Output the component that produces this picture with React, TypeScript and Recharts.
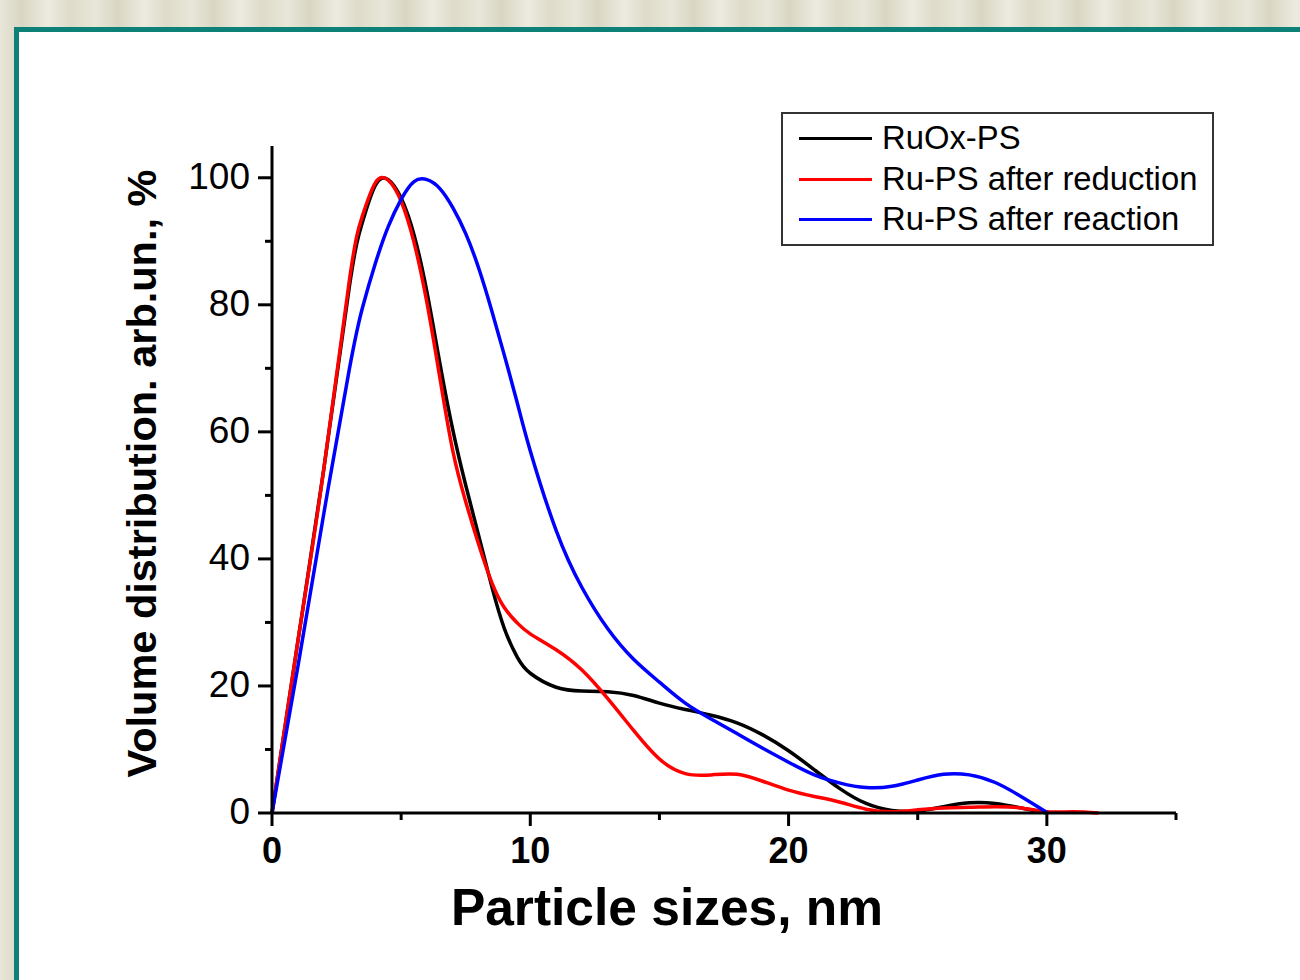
import { CartesianGrid, Legend, Line, LineChart, XAxis, YAxis } from 'recharts';

// particle size (nm) sample grid, shared by the three curves
const SIZES = [
  0, 1, 2, 3, 3.5, 4, 4.5, 5, 5.5, 6, 6.5, 7, 7.5, 8, 8.5, 9, 9.5, 10, 11, 12, 13, 14, 15, 16, 17, 18, 19, 20, 21, 22,
  23, 24, 25, 26, 27, 28, 29, 30, 31, 32,
];

const RUOX_PS = [
  0, 27, 54, 83, 93, 98.8, 99.7, 96.8, 91, 82, 70.8, 60.3, 51.6, 43.7, 35.8, 29, 24.5, 22, 19.8, 19.2, 19.1, 18.5,
  17.3, 16.3, 15.4, 14.2, 12.3, 9.8, 6.8, 3.8, 1.5, 0.4, 0.3, 1, 1.6, 1.5, 0.8, 0, null, null,
];

const RU_REDUCTION = [
  0, 27, 54, 84, 94, 99.2, 99.6, 96.3, 89.8, 80.3, 68.5, 57, 49, 42.3, 36.4, 32.3, 29.9, 28.2, 25.7, 22.5, 18, 13, 8.5,
  6.2, 6, 6.1, 5, 3.6, 2.6, 1.7, 0.6, 0.2, 0.5, 0.8, 0.9, 1, 0.8, 0.2, 0.2, 0,
];

const RU_REACTION = [
  0, 23, 47, 70, 79.5, 86.5, 92.3, 96.6, 99.4, 99.7, 98.3, 95.3, 91.2, 85.8, 79.2, 72, 64.5, 57, 44.5, 35.5, 29, 24.2,
  20.6, 17.3, 14.8, 12.5, 10.2, 8, 6, 4.7, 4, 4.2, 5.2, 6.1, 6, 4.8, 2.6, 0.1, null, null,
];

const SERIES = [
  { key: 'ruox', name: 'RuOx-PS', color: '#000000' },
  { key: 'red', name: 'Ru-PS after reduction', color: '#ff0000' },
  { key: 'react', name: 'Ru-PS after reaction', color: '#0000ff' },
];

const X_TICKS = [0, 5, 10, 15, 20, 25, 30, 35];
const X_LABELS = [0, 10, 20, 30];
const Y_TICKS = [0, 10, 20, 30, 40, 50, 60, 70, 80, 90, 100];
const Y_LABELS = [0, 20, 40, 60, 80, 100];

const FONT = '"Liberation Sans", Arial, sans-serif';
const TEAL = '#0d8078';

const rows = SIZES.map((x, i) => ({
  x,
  ruox: RUOX_PS[i],
  red: RU_REDUCTION[i],
  react: RU_REACTION[i],
}));

function XTick(props: any) {
  const { x, y, payload } = props;
  const major = X_LABELS.includes(payload.value);
  return (
    <g>
      <line x1={x} x2={x} y1={y} y2={y + (major ? 13 : 7)} stroke="#000" strokeWidth={3} />
      {major && (
        <text x={x} y={y + 50} textAnchor="middle" fontFamily={FONT} fontSize={36} fontWeight="bold" fill="#000">
          {payload.value}
        </text>
      )}
    </g>
  );
}

function YTick(props: any) {
  const { x, y, payload } = props;
  const major = Y_LABELS.includes(payload.value);
  return (
    <g>
      <line x1={x - (major ? 14 : 7)} x2={x} y1={y} y2={y} stroke="#000" strokeWidth={3} />
      {major && (
        <text x={x - 22} y={y + 11} textAnchor="end" fontFamily={FONT} fontSize={37} fill="#000">
          {payload.value}
        </text>
      )}
    </g>
  );
}

function XTitle(props: any) {
  const { x, y } = props.viewBox;
  return (
    <text x={x + 395} y={y + 112} textAnchor="middle" fontFamily={FONT} fontSize={51.5} fontWeight="bold" fill="#000">
      Particle sizes, nm
    </text>
  );
}

function YTitle(props: any) {
  const { x, y, width, height } = props.viewBox;
  const cx = x + width - 116;
  const cy = y + height / 2 - 6;
  return (
    <text
      x={cx}
      y={cy}
      transform={`rotate(-90, ${cx}, ${cy})`}
      textAnchor="middle"
      fontFamily={FONT}
      fontSize={41.5}
      fontWeight="bold"
      fill="#000"
    >
      Volume distribution. arb.un., %
    </text>
  );
}

function LegendBox() {
  return (
    <div
      style={{
        position: 'relative',
        width: 433,
        height: 134,
        boxSizing: 'border-box',
        border: '2px solid #333',
        background: '#fff',
        fontFamily: FONT,
        fontSize: 32.8,
        color: '#000',
      }}
    >
      {SERIES.map((s, i) => (
        <div key={s.key} style={{ position: 'absolute', left: 0, top: 4 + i * 40.5, height: 40, width: '100%' }}>
          <div style={{ position: 'absolute', left: 16, top: 19, width: 73, height: 3, background: s.color }} />
          <div style={{ position: 'absolute', left: 99, top: 0, lineHeight: '40px', whiteSpace: 'nowrap' }}>{s.name}</div>
        </div>
      ))}
    </div>
  );
}

export default function App() {
  return (
    <div
      style={{
        position: 'absolute',
        left: 0,
        top: 0,
        width: 1300,
        height: 980,
        overflow: 'hidden',
        background:
          'repeating-linear-gradient(90deg, #e8e6d8 0px, #d9d6c3 22px, #ecebdf 48px, #dedbc9 70px, #e9e7da 96px)',
      }}
    >
      <div
        style={{
          position: 'absolute',
          left: 14,
          top: 27,
          width: 1400,
          height: 1100,
          background: '#fff',
          borderLeft: `5px solid ${TEAL}`,
          borderTop: `5px solid ${TEAL}`,
        }}
      />
      <div style={{ position: 'absolute', left: 0, top: 0 }}>
        <LineChart width={1300} height={980} data={rows} margin={{ top: 146, right: 124, bottom: 67, left: 172 }}>
          <CartesianGrid stroke="none" />
          <XAxis
            dataKey="x"
            type="number"
            domain={[0, 35]}
            ticks={X_TICKS}
            interval={0}
            height={100}
            tickSize={0}
            tickMargin={0}
            tickLine={false}
            axisLine={{ stroke: '#000', strokeWidth: 3 }}
            tick={<XTick />}
            label={<XTitle />}
          />
          <YAxis
            type="number"
            domain={[0, 105]}
            ticks={Y_TICKS}
            interval={0}
            width={100}
            tickSize={0}
            tickMargin={0}
            tickLine={false}
            axisLine={{ stroke: '#000', strokeWidth: 3 }}
            tick={<YTick />}
            label={<YTitle />}
          />
          <Legend
            layout="horizontal"
            verticalAlign="middle"
            align="center"
            content={<LegendBox />}
            wrapperStyle={{ left: 781, top: 112, width: 433, height: 134 }}
          />
          {SERIES.map((s) => (
            <Line
              key={s.key}
              dataKey={s.key}
              name={s.name}
              type="natural"
              stroke={s.color}
              strokeWidth={3.5}
              dot={false}
              activeDot={false}
              isAnimationActive={false}
            />
          ))}
        </LineChart>
      </div>
    </div>
  );
}
